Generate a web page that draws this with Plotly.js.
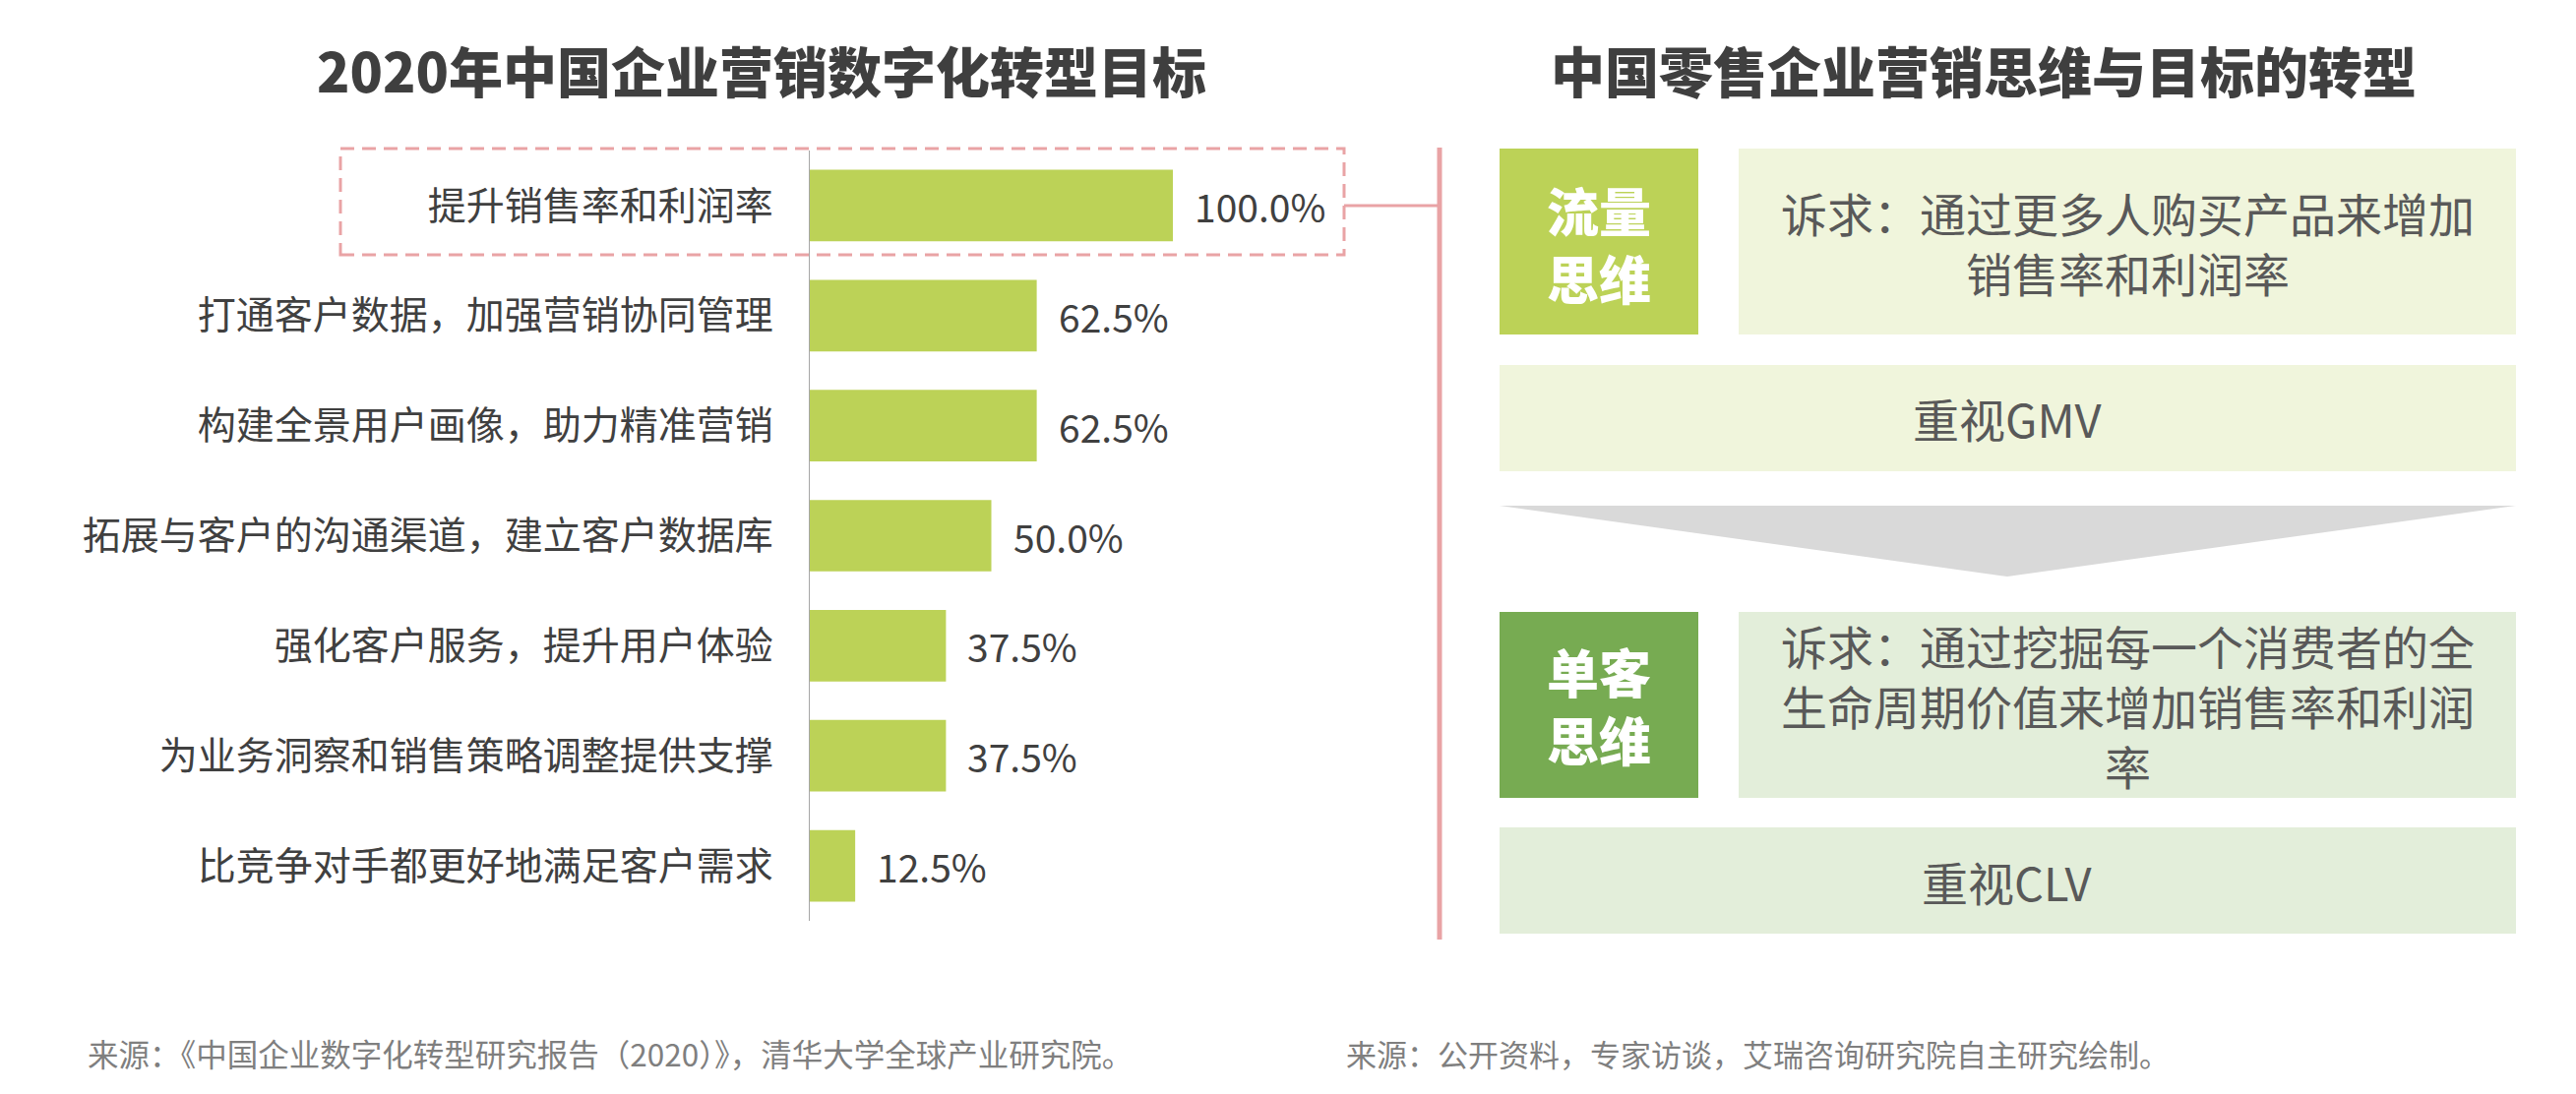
<!DOCTYPE html>
<html><head><meta charset="utf-8">
<script src="https://cdn.plot.ly/plotly-3.0.1.min.js"></script>
<style>html,body{margin:0;padding:0;background:#fff}#chart{width:2618px;height:1112px}</style>
</head><body><div id="chart"></div>
<script>
// ---- data ----
const categories = ["提升销售率和利润率","打通客户数据，加强营销协同管理","构建全景用户画像，助力精准营销","拓展与客户的沟通渠道，建立客户数据库","强化客户服务，提升用户体验","为业务洞察和销售策略调整提供支撑","比竞争对手都更好地满足客户需求"];
const values = [100, 62.5, 62.5, 50, 37.5, 37.5, 12.5];
const valueLabels = ["100.0%","62.5%","62.5%","50.0%","37.5%","37.5%","12.5%"];
const leftTitle = "2020年中国企业营销数字化转型目标";
const rightTitle = "中国零售企业营销思维与目标的转型";
const flowLabel = "流量<br>思维";
const flowDemand = "诉求：通过更多人购买产品来增加<br>销售率和利润率";
const flowFocus = "重视GMV";
const singleLabel = "单客<br>思维";
const singleDemand = "诉求：通过挖掘每一个消费者的全<br>生命周期价值来增加销售率和利润<br>率";
const singleFocus = "重视CLV";
const sourceLeft = "来源：《中国企业数字化转型研究报告（2020）》，清华大学全球产业研究院。";
const sourceRight = "来源：公开资料，专家访谈，艾瑞咨询研究院自主研究绘制。";

// ---- layout helpers ----
const W = 2618, H = 1112;
const px = x => x / W;
const py = y => 1 - y / H;
const FONT = '"Noto Sans CJK SC", "Noto Sans", sans-serif';
const plotX0 = 823, plotX1 = 1400, bar100 = 1192;
const xMax = 100 * (plotX1 - plotX0) / (bar100 - plotX0);

const trace = {
  type: 'bar', orientation: 'h',
  x: values, y: categories,
  marker: {color: '#BCD257'},
  hoverinfo: 'skip', showlegend: false
};

const annotations = [];
values.forEach((v, i) => {
  annotations.push({x: v, y: categories[i], xref: 'x', yref: 'y', text: valueLabels[i],
    xanchor: 'left', yanchor: 'middle', xshift: 20, showarrow: false,
    font: {family: FONT, size: 39, color: '#404040'}});
});
function pa(x, y, text, size, color, opts, weight) {
  annotations.push(Object.assign({x: px(x), y: py(y), xref: 'paper', yref: 'paper', text: text,
    showarrow: false, xanchor: 'center', yanchor: 'middle',
    font: {family: FONT, size: size, color: color, weight: weight || 400}}, opts || {}));
}
pa(774, 70, leftTitle, 55, '#3F3F3F', null, 900);
pa(2016, 70, rightTitle, 55, '#3F3F3F', null, 900);
pa(1625, 248, flowLabel, 53, '#FFFFFF', {align: 'center'}, 900);
pa(2162, 246, flowDemand, 47, '#595959', {align: 'center'});
pa(2040, 425, flowFocus, 47, '#595959');
pa(1625, 716, singleLabel, 53, '#FFFFFF', {align: 'center'}, 900);
pa(2162, 716, singleDemand, 47, '#595959', {align: 'center'});
pa(2040, 895, singleFocus, 47, '#595959');
pa(87, 1070, sourceLeft, 31.5, '#7F7F7F', {xanchor: 'left'});
pa(1366, 1070, sourceRight, 31, '#7F7F7F', {xanchor: 'left'});

function rect(x0, y0, x1, y1, fill, line) {
  return Object.assign({type: 'rect', xref: 'paper', yref: 'paper', x0: px(x0), x1: px(x1), y0: py(y1), y1: py(y0),
    fillcolor: fill, line: {width: 0}, layer: 'below'}, line ? {line: line} : {});
}
const pink = '#E9A3A5';
const shapes = [
  rect(346, 151, 1366, 259, 'rgba(0,0,0,0)', {color: pink, width: 3, dash: '14px,8px'}),
  {type: 'line', xref: 'paper', yref: 'paper', x0: px(1366), x1: px(1463), y0: py(209), y1: py(209), line: {color: pink, width: 3}},
  {type: 'line', xref: 'paper', yref: 'paper', x0: px(1463), x1: px(1463), y0: py(150), y1: py(955), line: {color: pink, width: 5}},
  rect(1524, 151, 1726, 340, '#BCD257'),
  rect(1767, 151, 2557, 340, '#F0F5DC'),
  rect(1524, 371, 2557, 479, '#F0F5DC'),
  {type: 'path', xref: 'paper', yref: 'paper', layer: 'below', fillcolor: '#D9D9D9', line: {width: 0},
   path: `M ${px(1524)} ${py(514)} L ${px(2557)} ${py(514)} L ${px(2040)} ${py(586)} Z`},
  rect(1524, 622, 1726, 811, '#77AB52'),
  rect(1767, 622, 2557, 811, '#E3EEDA'),
  rect(1524, 841, 2557, 949, '#E3EEDA')
];

const layout = {
  width: W, height: H, margin: {l: 0, r: 0, t: 0, b: 0},
  paper_bgcolor: '#FFFFFF', plot_bgcolor: 'rgba(0,0,0,0)',
  bargap: 0.35,
  xaxis: {domain: [px(plotX0), px(plotX1)], range: [0, xMax], visible: false, fixedrange: true},
  yaxis: {domain: [py(936), py(153)], type: 'category', autorange: 'reversed', automargin: false,
    showline: true, linecolor: '#A6A6A6', linewidth: 1.5, showgrid: false, zeroline: false, ticks: '',
    ticklabelstandoff: 28, tickfont: {family: FONT, size: 39, color: '#404040'}, fixedrange: true},
  showlegend: false,
  annotations: annotations, shapes: shapes,
  font: {family: FONT}
};
Plotly.newPlot('chart', [trace], layout, {displayModeBar: false, staticPlot: true});
</script></body></html>
